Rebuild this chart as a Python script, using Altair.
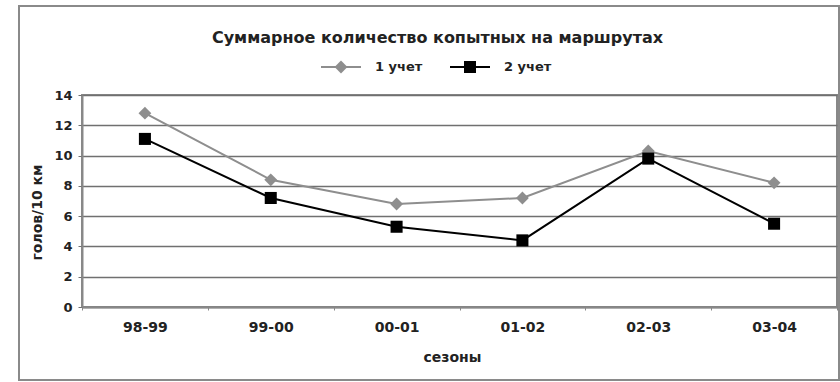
import altair as alt
import pandas as pd

seasons = ["98-99", "99-00", "00-01", "01-02", "02-03", "03-04"]
series_names = ["1 учет", "2 учет"]
count_1 = [12.8, 8.4, 6.8, 7.2, 10.3, 8.2]
count_2 = [11.1, 7.2, 5.3, 4.4, 9.8, 5.5]
y_ticks = [0, 2, 4, 6, 8, 10, 12, 14]

colors = ["#8e8e8e", "#000000"]
shapes = ["diamond", "square"]
marker_sizes = [165, 145]

rows = []
for name, vals in zip(series_names, [count_1, count_2]):
    for s, v in zip(seasons, vals):
        rows.append({"season": s, "series": name, "value": v})
df = pd.DataFrame(rows)
legend_df = pd.DataFrame({"series": series_names})

FONT = "DejaVu Sans"
TXT = "#222222"


def x_enc(show_axis):
    axis = None
    if show_axis:
        axis = alt.Axis(
            title="сезоны",
            labelAngle=0,
            tickBand="extent",
            tickSize=3,
            tickColor="#888888",
            domainColor="#888888",
            domainWidth=2,
            labelPadding=10,
            labelFontSize=14,
            labelFont=FONT,
            labelFontWeight="bold",
            labelColor=TXT,
            titleFontSize=14,
            titleFont=FONT,
            titleFontWeight="bold",
            titleColor=TXT,
            titleX=370,
            titleY=50,
            titleBaseline="middle",
        )
    return alt.X(
        "season:N",
        sort=seasons,
        bandPosition=0.5,
        scale=alt.Scale(type="band", paddingInner=0, paddingOuter=0),
        axis=axis,
    )


y_enc = alt.Y(
    "value:Q",
    scale=alt.Scale(domain=[0, 14], nice=False),
    axis=alt.Axis(
        title="голов/10 км",
        values=y_ticks,
        grid=True,
        gridColor="#707070",
        gridWidth=1.6,
        tickSize=4,
        tickColor="#707070",
        domainColor="#888888",
        domainWidth=2,
        labelPadding=6,
        labelFontSize=13,
        labelFont=FONT,
        labelFontWeight="bold",
        labelColor=TXT,
        titleFontSize=14,
        titleFont=FONT,
        titleFontWeight="bold",
        titleColor=TXT,
        titleAngle=270,
        titleX=-45,
        titleY=117,
        titleAlign="center",
        titleBaseline="middle",
    ),
)

color_enc = alt.Color("series:N", scale=alt.Scale(domain=series_names, range=colors), legend=None)
shape_enc = alt.Shape("series:N", scale=alt.Scale(domain=series_names, range=shapes), legend=None)
size_enc = alt.Size("series:N", scale=alt.Scale(domain=series_names, range=marker_sizes), legend=None)

frame = alt.Chart(legend_df.head(1)).mark_rect(
    fillOpacity=0, stroke="#8a8a8a", strokeWidth=2
).encode(
    x=alt.value(-63), x2=alt.value(757), y=alt.value(-89), y2=alt.value(285)
)

lines = alt.Chart(df).mark_line(strokeWidth=2).encode(
    x=x_enc(True), y=y_enc, color=color_enc
)

points = alt.Chart(df).mark_point(filled=True, opacity=1).encode(
    x=x_enc(False), y=y_enc, color=color_enc, shape=shape_enc, size=size_enc
)

# legend (drawn from the series names through its own point scale)
leg_x = alt.X("series:N", sort=series_names,
              scale=alt.Scale(type="point", padding=0, domain=series_names, range=[259, 388]),
              axis=None)
leg_y = alt.value(-28)

leg_line = alt.Chart(legend_df).mark_rule(strokeWidth=2, xOffset=-20, x2Offset=20).encode(
    x=leg_x, x2=alt.X2("series"), y=leg_y, color=color_enc
)
leg_point = alt.Chart(legend_df).mark_point(filled=True, opacity=1).encode(
    x=leg_x, y=leg_y, color=color_enc, shape=shape_enc, size=size_enc
)
leg_text = alt.Chart(legend_df).mark_text(
    align="left", baseline="middle", dx=34, font=FONT, fontSize=13,
    fontWeight="bold", color=TXT
).encode(x=leg_x, y=leg_y, text="series:N")

chart = (
    alt.layer(frame, lines, points, leg_line, leg_point, leg_text)
    .resolve_scale(x="independent")
    .properties(
        width=755,
        height=212,
        autosize=alt.AutoSizeParams(type="none"),
        padding={"left": 82, "top": 95, "right": 3, "bottom": 75},
        background="white",
        title=alt.TitleParams(
            "Суммарное количество копытных на маршрутах",
            anchor="middle",
            frame="group",
            offset=-41,
            dx=-22,
            font=FONT,
            fontSize=16,
            fontWeight="bold",
            color=TXT,
        ),
    )
    .configure_view(stroke="#888888", strokeWidth=2)
)

chart.save("out.html", embed_options={"renderer": "svg", "actions": False})
